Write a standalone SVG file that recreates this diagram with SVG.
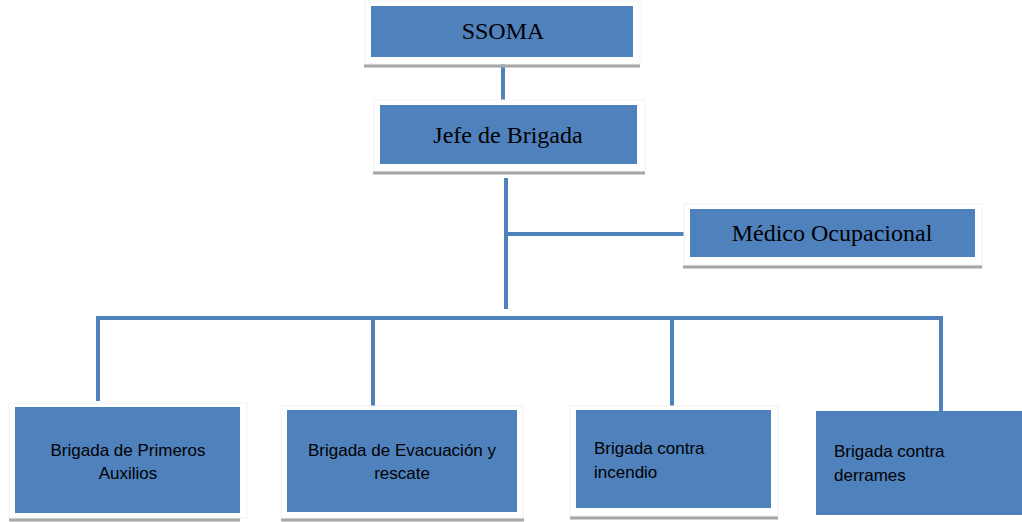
<svg xmlns="http://www.w3.org/2000/svg" width="1022" height="522" viewBox="0 0 1022 522">
<style>
.box{fill:#4F81BD;}
.sh{stroke:#A6A6A6;stroke-width:3;}
.frame{fill:#FFFFFF;stroke:#F2F2F2;stroke-width:1;}
.ln{stroke:#4F81BD;stroke-width:4;fill:none;}
.serif{font-family:"Liberation Serif","Times New Roman",serif;font-size:24px;fill:#000;}
.sans{font-family:"Liberation Sans",Arial,sans-serif;font-size:17px;fill:#000;}
</style>
<rect width="1022" height="522" fill="#FFFFFF"/>
<g id="connectors">
<line class="ln" x1="503" y1="57" x2="503" y2="105"/>
<line class="ln" x1="506" y1="178" x2="506" y2="309"/>
<line class="ln" x1="506" y1="234" x2="690" y2="234"/>
<polyline class="ln" points="98,401 98,318 941,318 941,411"/>
<line class="ln" x1="373" y1="318" x2="373" y2="410"/>
<line class="ln" x1="672" y1="318" x2="672" y2="410"/>
</g>
<g id="ssoma">
<rect class="frame" x="365" y="1" width="275" height="63"/>
<line class="sh" x1="364" y1="66" x2="640" y2="66"/>
<rect class="box" x="371" y="6" width="262" height="51"/>
<text class="serif" x="503" y="39" text-anchor="middle">SSOMA</text>
</g>
<g id="jefe">
<rect class="frame" x="374" y="100" width="271" height="71"/>
<line class="sh" x1="373" y1="173" x2="645" y2="173"/>
<rect class="box" x="380" y="105" width="257" height="59"/>
<text class="serif" x="508" y="143" text-anchor="middle">Jefe de Brigada</text>
</g>
<g id="medico">
<rect class="frame" x="684" y="204" width="298" height="61"/>
<line class="sh" x1="683" y1="267" x2="982" y2="267"/>
<rect class="box" x="690" y="209" width="285" height="48"/>
<text class="serif" x="832" y="241" text-anchor="middle">Médico Ocupacional</text>
</g>
<g id="primeros">
<rect class="frame" x="9" y="403" width="238" height="115"/>
<line class="sh" x1="9" y1="520" x2="240" y2="520"/>
<rect class="box" x="15" y="407" width="225" height="106"/>
<text class="sans" x="128" y="456" text-anchor="middle">Brigada de Primeros</text>
<text class="sans" x="128" y="479" text-anchor="middle">Auxilios</text>
</g>
<g id="evacuacion">
<rect class="frame" x="281" y="406" width="242" height="112"/>
<line class="sh" x1="281" y1="520" x2="524" y2="520"/>
<rect class="box" x="287" y="410" width="230" height="102"/>
<text class="sans" x="402" y="456" text-anchor="middle">Brigada de Evacuación y</text>
<text class="sans" x="402" y="479" text-anchor="middle">rescate</text>
</g>
<g id="incendio">
<rect class="frame" x="570" y="406" width="208" height="110"/>
<line class="sh" x1="570" y1="518" x2="778" y2="518"/>
<rect class="box" x="576" y="410" width="195" height="98"/>
<text class="sans" x="594" y="454">Brigada contra</text>
<text class="sans" x="594" y="478">incendio</text>
</g>
<g id="derrames">
<rect class="box" x="816" y="411" width="206" height="104"/>
<text class="sans" x="834" y="457">Brigada contra</text>
<text class="sans" x="834" y="481">derrames</text>
</g>
</svg>
